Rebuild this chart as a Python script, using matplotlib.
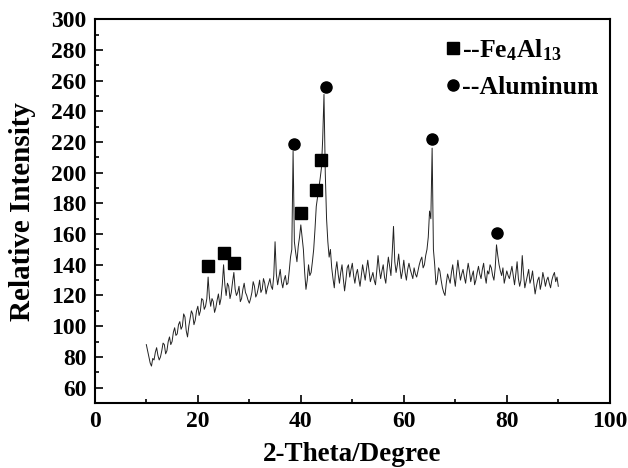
import numpy as np
import matplotlib
matplotlib.use("Agg")
import matplotlib.pyplot as plt
from matplotlib.lines import Line2D

# XRD scan, 10-90 deg in 0.25 deg steps
theta_start = 10.0
theta_step = 0.25
intensity = [
    88, 84, 80, 76, 74, 79, 78, 83, 86, 81, 78, 80, 84, 89, 88, 82, 84, 90, 93, 88,
    90, 96, 99, 94, 95, 101, 103, 98, 100, 108, 106, 97, 93, 100, 105, 110, 108, 101, 104, 110,
    113, 107, 110, 118, 117, 111, 113, 118, 132, 119, 113, 118, 116, 109, 112, 117, 121, 114, 118, 127,
    140, 127, 120, 128, 126, 118, 122, 129, 135, 124, 120, 122, 126, 116, 118, 124, 128, 122, 120, 117,
    115, 118, 122, 129, 126, 119, 121, 125, 130, 122, 124, 131, 128, 121, 125, 128, 131, 126, 124, 133,
    155, 134, 127, 132, 137, 129, 125, 130, 133, 127, 128, 136, 145, 150, 214, 155, 148, 142, 152, 158,
    166, 158, 150, 135, 124, 130, 140, 133, 135, 142, 150, 163, 178, 184, 190, 196, 203, 222, 251, 200,
    170, 155, 145, 150, 138, 131, 125, 136, 142, 134, 128, 135, 140, 131, 123, 130, 138, 140, 132, 137,
    141, 133, 128, 134, 137, 131, 126, 133, 140, 135, 130, 137, 143, 136, 129, 132, 135, 130, 127, 136,
    146, 137, 131, 136, 140, 132, 128, 137, 145, 139, 133, 148, 165, 142, 135, 140, 147, 138, 131, 136,
    143, 135, 130, 137, 141, 137, 134, 131, 138, 134, 132, 136, 140, 143, 145, 138, 140, 146, 150, 158,
    175, 170, 216, 150, 140, 127, 130, 138, 136, 130, 125, 122, 120, 128, 134, 131, 128, 135, 140, 132,
    126, 135, 143, 136, 130, 134, 137, 132, 128, 135, 141, 136, 129, 133, 136, 127, 130, 135, 139, 134,
    131, 137, 141, 133, 128, 136, 134, 140, 138, 133, 130, 138, 153, 146, 140, 136, 133, 138, 128, 132,
    136, 133, 131, 135, 139, 133, 127, 134, 142, 131, 126, 130, 146, 134, 125, 129, 133, 137, 128, 131,
    136, 128, 121, 126, 130, 132, 124, 128, 135, 131, 126, 130, 132, 128, 125, 130, 133, 135, 129, 132,
    126,
]

# phase markers
fe_x = [22, 25, 27, 40, 42.9, 43.9]
fe_y = [139, 148, 141, 174, 189, 208]
al_x = [38.6, 44.9, 65.4, 78.1]
al_y = [219, 256, 222, 161]

plt.rcParams['font.family'] = ['Liberation Serif', 'DejaVu Serif']
plt.rcParams['font.weight'] = 'bold'
plt.rcParams['mathtext.fontset'] = 'custom'
plt.rcParams['mathtext.rm'] = 'Liberation Serif:bold'
plt.rcParams['mathtext.bf'] = 'Liberation Serif:bold'
plt.rcParams['mathtext.it'] = 'Liberation Serif:bold'

theta = theta_start + theta_step * np.arange(len(intensity))

fig = plt.figure(figsize=(6.28, 4.68), dpi=100)
ax = fig.add_axes([0.151, 0.139, 0.820, 0.820])

ax.plot(theta, intensity, color='#222222', lw=0.7)
ax.plot(fe_x, fe_y, 's', color='black', ms=8, ls='none')
ax.plot(al_x, al_y, 'o', color='black', ms=8, ls='none')

ax.set_xlim(0, 100)
ax.set_ylim(50, 300)
ax.set_xticks(np.arange(0, 101, 20))
ax.set_xticks(np.arange(10, 100, 20), minor=True)
ax.set_yticks(np.arange(60, 301, 20))
ax.set_yticks(np.arange(50, 301, 10), minor=True)
ax.tick_params(which='both', direction='in', width=1.2, labelsize=17)
ax.tick_params(which='major', length=6, pad=6)
ax.tick_params(which='minor', length=3)
for s in ax.spines.values():
    s.set_linewidth(1.5)

ax.set_xlabel('2-Theta/Degree', fontsize=19.5, fontweight='bold', labelpad=7)
ax.set_ylabel('Relative Intensity', fontsize=21, fontweight='bold', labelpad=11)

handles = [Line2D([], [], marker='s', color='black', ls='none', ms=8),
           Line2D([], [], marker='o', color='black', ls='none', ms=8)]
labels = ['--Fe$_4$Al$_{13}$', '--Aluminum']
ax.legend(handles, labels, loc='upper right', bbox_to_anchor=(1.012, 1.0),
          frameon=False, fontsize=18.5,
          handlelength=0.5, handletextpad=0.1, labelspacing=0.5,
          borderaxespad=0.3)

fig.savefig('out.png', dpi=100)
